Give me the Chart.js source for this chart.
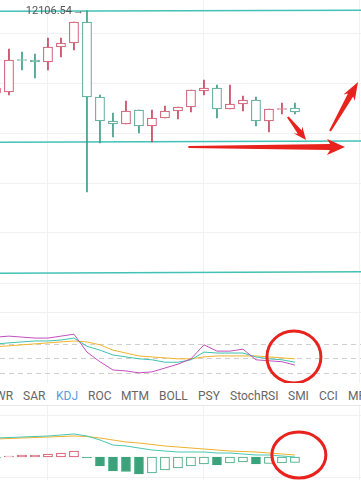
<!DOCTYPE html>
<html>
<head>
<meta charset="utf-8">
<title>K line</title>
<script src="https://cdn.jsdelivr.net/npm/chart.js@4.4.1/dist/chart.umd.min.js"></script>
<style>
  html, body { margin:0; padding:0; background:#fff; }
  body { position:relative; width:361px; height:480px; overflow:hidden; font-family:Roboto, "Noto Sans", sans-serif; }
  .pane { position:absolute; left:0; width:361px; }
  #mainBox { top:0; height:290px; }
  #kdjTop { position:absolute; left:0; top:312px; width:361px; height:1px; background:#f0f0f0; }
  #kdjBox { top:290px; height:93px; }
  #tabs { top:383px; height:22px; border-bottom:1px solid #e8e8e8; background:#fff; }
  #macdBox { top:406px; height:74px; }
  .tab { position:absolute; top:7px; font-size:12px; line-height:12px; color:#666; white-space:nowrap; }
  .tab.on { color:#5a9be0; }
</style>
</head>
<body>
<div class="pane" id="mainBox"><canvas id="main"></canvas></div>
<div id="kdjTop"></div>
<div class="pane" id="kdjBox"><canvas id="kdj"></canvas></div>
<div class="pane" id="tabs"></div>
<div class="pane" id="macdBox"><canvas id="macd"></canvas></div>

<script>
// candles, oldest first (slot 0 is cut off at the left edge)
const opens  = [11778, 11782, 11912, 11910, 11902, 11962, 11978, 12062, 11762, 11666, 11654, 11710, 11646, 11678, 11706, 11722, 11786, 11798, 11714, 11734, 11750, 11666, 11712, 11718];
const closes = [11798, 11910, 11908, 11902, 11962, 11978, 12062, 11762, 11666, 11654, 11706, 11646, 11678, 11706, 11722, 11790, 11798, 11714, 11734, 11750, 11666, 11714, 11716, 11702];
const highs  = [11814, 11954, 11942, 11934, 11998, 11998, 12062, 12106.54, 11770, 11698, 11746, 11710, 11710, 11726, 11722, 11790, 11830, 11810, 11810, 11766, 11762, 11714, 11738, 11738];
const lows   = [11766, 11770, 11870, 11838, 11870, 11922, 11950, 11382, 11578, 11602, 11654, 11618, 11582, 11678, 11674, 11702, 11770, 11678, 11714, 11706, 11646, 11622, 11694, 11694];

// hand drawn trend lines: price at left edge / right edge
const trendStart = [12105, 11581, 11057];
const trendEnd   = [12109, 11586, 11063];

// KDJ
const kLine = [81, 83, 85, 87, 87, 89, 93, 76, 68, 58, 54, 50, 48, 43, 43, 48, 64, 62, 62, 62, 54, 50, 48, 43];
const dLine = [75, 77, 79, 81, 83, 85, 87, 85, 79, 68, 62, 56, 54, 52, 50, 50, 54, 56, 56, 56, 56, 54, 52, 50];
const jLine = [95, 97, 95, 93, 93, 97, 101, 64, 44, 27, 25, 21, 23, 31, 39, 50, 79, 66, 66, 70, 48, 46, 44, 37];

// MACD
const macdHist = [-2, 2, 4, 4, 6, 8, 12, -2, -18, -28, -29, -34, -32, -26, -22, -18, -14, -16, -12, -10, -14, -13, -12, -11];
const difLine  = [38, 39, 40, 41, 42, 44, 46, 42, 34, 24, 22, 18, 14, 12, 10, 10, 10, 8, 8, 6, 4, 4, 2, 0];
const deaLine  = [36, 37, 38, 39, 40, 41, 42, 41, 38, 34, 30, 28, 25, 22, 20, 18, 16, 14, 12, 11, 10, 8, 6, 4];

const tabNames = ['WR', 'SAR', 'KDJ', 'ROC', 'MTM', 'BOLL', 'PSY', 'StochRSI', 'SMI', 'CCI', 'MF'];
const activeTab = 'KDJ';

// view / grid
const xView = [0.31, 28.08];
const xGrid = [4, 16, 28];
const mainRange = [10990, 12150];
const mainGrid = [11018, 11218, 11418, 11618, 11818, 12018];
const kdjRange = [0, 192.5];
const kdjGrid = [20, 50, 80];
const macdRange = [-46, 102];
const macdGrid = [82, -40];

const RED = '#c8435e', GREEN = '#3e9c86', TEAL = '#43c1b6', MARK = '#e8221c';

const tabLeft = [-5, 23, 56, 88, 121, 159, 198, 230, 288, 319, 348];
const tabs = document.getElementById('tabs');
tabNames.forEach((t, i) => {
  const s = document.createElement('span');
  s.className = 'tab' + (t === activeTab ? ' on' : '');
  s.style.left = tabLeft[i] + 'px';
  s.textContent = t;
  tabs.appendChild(s);
});

const idx = opens.map((_, i) => i);
const pts = arr => arr.map((v, i) => ({ x: i, y: v }));

function opts(range, yGrid, dashed){
  return {
    responsive: true, maintainAspectRatio: false, animation: false, events: [],
    layout: { padding: 0 },
    plugins: { legend: { display: false }, tooltip: { enabled: false } },
    scales: {
      x: { type: 'linear', min: xView[0], max: xView[1], offset: false,
           ticks: { display: false }, grid: { color: '#f1f1f1', drawTicks: false, offset: false }, border: { display: false },
           afterBuildTicks: s => { s.ticks = xGrid.map(v => ({ value: v })); } },
      y: { min: range[0], max: range[1],
           ticks: { display: false },
           grid: { color: dashed ? '#cfcfcf' : '#f1f1f1', drawTicks: false },
           border: { display: false, dash: dashed ? [5, 4] : [] },
           afterBuildTicks: s => { s.ticks = yGrid.map(v => ({ value: v })); } }
    }
  };
}

function arrow(ctx, x1, y1, x2, y2, w1, w2, hw, hl){
  const len = Math.hypot(x2 - x1, y2 - y1);
  const ux = (x2 - x1) / len, uy = (y2 - y1) / len, nx = -uy, ny = ux;
  const bx = x2 - ux * hl, by = y2 - uy * hl;
  ctx.beginPath();
  ctx.moveTo(x1 + nx * w1 / 2, y1 + ny * w1 / 2);
  ctx.lineTo(bx + nx * w2 / 2, by + ny * w2 / 2);
  ctx.lineTo(bx - ux * 3 + nx * hw / 2, by - uy * 3 + ny * hw / 2);
  ctx.lineTo(x2, y2);
  ctx.lineTo(bx - ux * 3 - nx * hw / 2, by - uy * 3 - ny * hw / 2);
  ctx.lineTo(bx - nx * w2 / 2, by - ny * w2 / 2);
  ctx.lineTo(x1 - nx * w1 / 2, y1 - ny * w1 / 2);
  ctx.closePath();
  ctx.fill();
}

function ring(ctx, cx, cy, rx, ry){
  ctx.beginPath();
  ctx.ellipse(cx, cy, rx, ry, 0, 0, Math.PI * 2);
  ctx.lineWidth = 3;
  ctx.strokeStyle = MARK;
  ctx.stroke();
}

// red marks drawn on the screenshot, anchored in data space [slot, value]
const mainArrows = [
  { from: [14.8, 11562], to: [26.85, 11562], w: [2, 6, 16, 15] },
  { from: [22.45, 11682], to: [23.85, 11590], w: [2, 5, 11, 10] },
  { from: [25.7, 11626], to: [27.85, 11822], w: [2, 6, 13, 15] }
];
const kdjRing = { at: [22.92, 54], r: [27, 26] };
const macdRing = { at: [23.3, 4], r: [27, 23] };

const mainMarks = {
  id: 'mainMarks',
  afterDraw(chart){
    const { ctx, scales: { x, y } } = chart;
    // max price label
    let top = 0;
    highs.forEach((h, i) => { if (h > highs[top]) top = i; });
    const px = x.getPixelForValue(top), py = y.getPixelForValue(highs[top]);
    ctx.save();
    ctx.fillStyle = '#555';
    ctx.font = '11px Roboto';
    ctx.textAlign = 'right';
    ctx.textBaseline = 'middle';
    ctx.fillText('→', px - 3, py);
    ctx.fillText(highs[top].toFixed(2), px - 15, py);
    ctx.fillStyle = MARK;
    mainArrows.forEach(a => {
      arrow(ctx, x.getPixelForValue(a.from[0]), y.getPixelForValue(a.from[1]),
                 x.getPixelForValue(a.to[0]), y.getPixelForValue(a.to[1]), ...a.w);
    });
    ctx.restore();
  }
};

function ringPlugin(r){
  return {
    id: 'ring',
    afterDraw(chart){
      const { ctx, scales: { x, y } } = chart;
      ctx.save();
      ring(ctx, x.getPixelForValue(r.at[0]), y.getPixelForValue(r.at[1]), r.r[0], r.r[1]);
      ctx.restore();
    }
  };
}

const candleColor = idx.map(i => closes[i] >= opens[i] ? RED : GREEN);

new Chart(document.getElementById('main'), {
  type: 'bar',
  data: {
    datasets: [
      { data: idx.map(i => ({ x: i, y: [opens[i], closes[i]] })), backgroundColor: '#fff',
        borderColor: candleColor, borderWidth: 1, borderSkipped: false, barThickness: 9, grouped: false },
      { data: idx.map(i => ({ x: i, y: [lows[i], highs[i]] })), backgroundColor: candleColor,
        borderWidth: 0, barThickness: 1, grouped: false },
      ...trendStart.map((v, k) => ({
        type: 'line', data: [{ x: xView[0], y: v }, { x: xView[1], y: trendEnd[k] }],
        borderColor: TEAL, borderWidth: 1.5, pointRadius: 0
      }))
    ]
  },
  options: opts(mainRange, mainGrid, false),
  plugins: [mainMarks]
});

const lineSet = (arr, color) => ({ data: pts(arr), borderColor: color, borderWidth: 1, pointRadius: 0, tension: 0 });

new Chart(document.getElementById('kdj'), {
  type: 'line',
  data: { datasets: [lineSet(jLine, '#c24fbd'), lineSet(kLine, '#3fc2ad'), lineSet(dLine, '#f2b32c')] },
  options: opts(kdjRange, kdjGrid, true),
  plugins: [ringPlugin(kdjRing)]
});

const histColor = macdHist.map(v => v >= 0 ? '#d2455c' : '#3aa37b');
const histFill = macdHist.map((v, i) => i > 0 && v < macdHist[i - 1] ? histColor[i] : '#fff');

new Chart(document.getElementById('macd'), {
  type: 'bar',
  data: {
    datasets: [
      { type: 'line', ...lineSet(difLine, '#49c6b3') },
      { type: 'line', ...lineSet(deaLine, '#efb12e') },
      { data: pts(macdHist), backgroundColor: histFill, borderColor: histColor, borderWidth: 1,
        borderSkipped: false, barThickness: 9, grouped: false }
    ]
  },
  options: opts(macdRange, macdGrid, false),
  plugins: [ringPlugin(macdRing)]
});
</script>
</body>
</html>
